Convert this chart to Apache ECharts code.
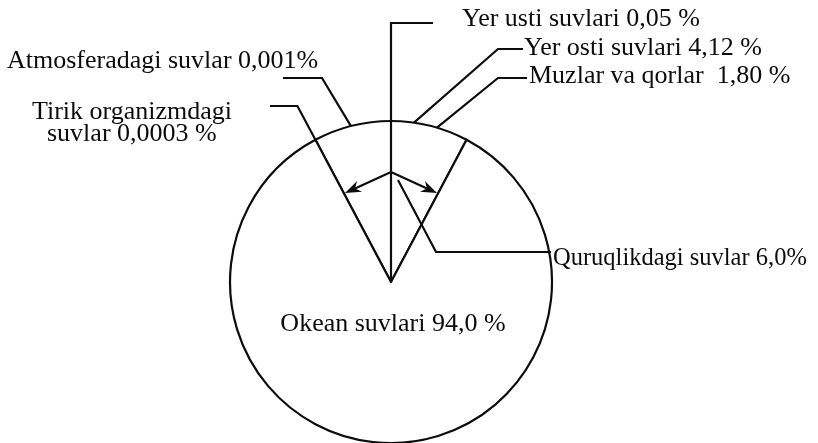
<!DOCTYPE html>
<html>
<head>
<meta charset="utf-8">
<script src="https://cdn.jsdelivr.net/npm/echarts@6/dist/echarts.min.js"></script>
<style>
  html, body { margin: 0; padding: 0; background: #fff; }
  #chart { width: 818px; height: 443px; }
</style>
</head>
<body>
<div id="chart"></div>
<script>
// suv zaxiralari (%)
var mainNames = ['Quruqlikdagi suvlar', 'Okean suvlari']
var mainValues = [6.0, 94.0]
var mainDecimals = [1, 1]
var mainSep = ['', ' ']

var partNames = ['Yer usti suvlari', 'Yer osti suvlari', 'Muzlar va qorlar ', 'Atmosferadagi suvlar', 'Tirik organizmdagi\nsuvlar']
var partValues = [0.05, 4.12, 1.80, 0.001, 0.0003]
var partDecimals = [2, 2, 2, 3, 4]
var partSep = [' ', ' ', ' ', '', ' ']

function fmt(v, d, sep) {
  return v.toFixed(d).replace('.', ',') + sep + '%'
}

var cx = 391
var cy = 282
var R = 161
var half = 28 // yarim burchak (sxematik)
var ink = '#0c0c0c'
var font = 'Liberation Serif'
var fs = 26

function onCircle(deg) {
  var a = deg * Math.PI / 180
  return [cx + R * Math.sin(a), cy - R * Math.cos(a)]
}

var chart = echarts.init(document.getElementById('chart'))

var lineStyle = { stroke: ink, lineWidth: 2.2, fill: null }
var graphics = []

function poly(points) {
  graphics.push({ type: 'polyline', silent: true, z: 100, shape: { points: points }, style: lineStyle })
}
function txt(x, y, text, size) {
  graphics.push({
    type: 'text', silent: true, z: 100, x: x, y: y,
    style: { text: text, fill: ink, font: (size || fs) + 'px "' + font + '"', align: 'left', verticalAlign: 'middle' }
  })
}
function arrow(from, to) {
  var dx = to[0] - from[0]
  var dy = to[1] - from[1]
  var len = Math.sqrt(dx * dx + dy * dy)
  var ux = dx / len
  var uy = dy / len
  var L = 16
  var W = 6
  var bx = to[0] - ux * L
  var by = to[1] - uy * L
  poly([from, [bx + ux * 5, by + uy * 5]])
  graphics.push({
    type: 'polygon', silent: true, z: 100,
    shape: { points: [to, [bx - uy * W, by + ux * W], [bx + ux * 5, by + uy * 5], [bx + uy * W, by - ux * W]] },
    style: { fill: ink }
  })
}

// vertikal chiziq -> Yer usti suvlari
poly([[cx, cy], [cx, 23], [433, 23]])
txt(462, 19, partNames[0] + ' ' + fmt(partValues[0], partDecimals[0], partSep[0]))

// Yer osti suvlari
poly([onCircle(8.2), [498, 49], [523, 49]])
txt(524, 48, partNames[1] + ' ' + fmt(partValues[1], partDecimals[1], partSep[1]))

// Muzlar va qorlar
poly([onCircle(16.6), [498, 78], [527, 78]])
txt(529, 76, partNames[2] + ' ' + fmt(partValues[2], partDecimals[2], partSep[2]))

// Atmosferadagi suvlar
poly([onCircle(-14.4), [322, 78], [283, 78]])
txt(7, 61, partNames[3] + ' ' + fmt(partValues[3], partDecimals[3], partSep[3]))

// Tirik organizmdagi suvlar (chap chegaraning davomi)
var tY = 106
var tX = cx - (cy - tY) * Math.tan(half * Math.PI / 180)
poly([onCircle(-half), [tX, tY], [270, tY]])
var tirik = partNames[4].split('\n')
txt(32, 112, tirik[0])
txt(47, 134, tirik[1] + ' ' + fmt(partValues[4], partDecimals[4], partSep[4]))

// burchak strelkalari
arrow([cx, 172], [345, 193])
arrow([cx, 172], [437, 193])

// Quruqlikdagi suvlar chizig'i
poly([[398, 180], [436, 252], [551, 252]])

var pieData = mainNames.map(function (n, i) {
  return { name: n, value: mainValues[i] }
})

chart.setOption({
  animation: false,
  backgroundColor: '#fff',
  series: [{
    type: 'pie',
    center: [cx, cy],
    radius: R,
    startAngle: 90 + half,
    minAngle: half * 2,
    clockwise: true,
    avoidLabelOverlap: false,
    silent: true,
    emphasis: { disabled: true },
    itemStyle: { color: '#fff', borderColor: ink, borderWidth: 2.2 },
    label: {
      show: true,
      position: 'inside',
      color: ink,
      fontFamily: font,
      fontSize: fs,
      formatter: function (p) {
        var i = p.dataIndex
        return mainNames[i] + ' ' + fmt(mainValues[i], mainDecimals[i], mainSep[i])
      }
    },
    labelLine: { show: false },
    labelLayout: function (p) {
      if (p.dataIndex === 0) {
        return { x: 553, y: 259, align: 'left', verticalAlign: 'middle', fontSize: 24.5 }
      }
      return { x: 393, y: 324, align: 'center', verticalAlign: 'middle' }
    },
    data: pieData
  }],
  graphic: graphics
})
</script>
</body>
</html>
